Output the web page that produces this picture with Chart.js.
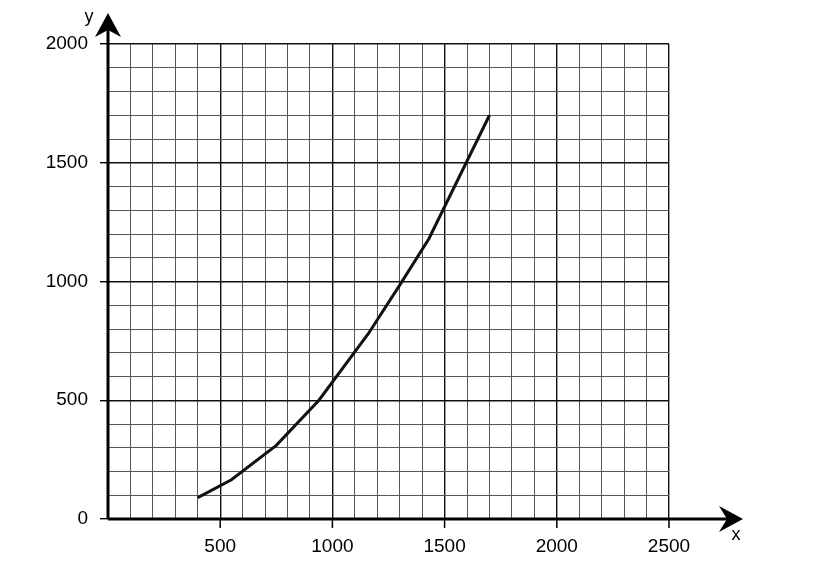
<!DOCTYPE html>
<html>
<head>
<meta charset="utf-8">
<script src="https://cdn.jsdelivr.net/npm/chart.js@4.4.1/dist/chart.umd.min.js"></script>
<style>
  html, body { margin: 0; padding: 0; background: #fff; }
  #wrap { width: 837px; height: 567px; position: relative; }
</style>
</head>
<body>
<div id="wrap"><canvas id="graph"></canvas></div>
<script>
// curve
const xValues = [400, 550, 750, 940, 1160, 1300, 1430, 1700];
const yValues = [90, 165, 310, 500, 780, 985, 1180, 1700];

const xMax = 2500;
const yMax = 2000;
const minorStep = 100;
const majorStep = 500;

const points = xValues.map((x, i) => ({ x: x, y: yValues[i] }));

const isMajor = (v) => v % majorStep === 0;

// axes with arrow heads and the x / y letters
const arrowAxes = {
    id: 'arrowAxes',
    afterDraw(chart) {
        const ctx = chart.ctx;
        const xs = chart.scales.x;
        const ys = chart.scales.y;
        const ox = xs.getPixelForValue(0);
        const oy = ys.getPixelForValue(0);

        ctx.save();
        ctx.strokeStyle = '#000';
        ctx.fillStyle = '#000';

        // small tick marks under the x axis at the labelled values
        ctx.lineWidth = 1.5;
        ctx.beginPath();
        for (let v = majorStep; v <= xMax; v += majorStep) {
            const px = xs.getPixelForValue(v);
            ctx.moveTo(px, oy);
            ctx.lineTo(px, oy + 9);
        }
        ctx.stroke();

        ctx.lineWidth = 3;
        ctx.beginPath();
        ctx.moveTo(ox, oy);
        ctx.lineTo(728, oy);
        ctx.moveTo(ox, oy);
        ctx.lineTo(ox, 28);
        ctx.stroke();

        // x arrow
        ctx.beginPath();
        ctx.moveTo(743, oy);
        ctx.lineTo(719, oy - 13);
        ctx.lineTo(727, oy);
        ctx.lineTo(719, oy + 13);
        ctx.closePath();
        ctx.fill();

        // y arrow
        ctx.beginPath();
        ctx.moveTo(ox, 13);
        ctx.lineTo(ox - 13, 37);
        ctx.lineTo(ox, 30);
        ctx.lineTo(ox + 13, 37);
        ctx.closePath();
        ctx.fill();

        ctx.font = '18px "Liberation Sans", Arial, sans-serif';
        ctx.textAlign = 'center';
        ctx.textBaseline = 'middle';
        ctx.fillText('y', 89, 17);
        ctx.fillText('x', 736, 535);
        ctx.restore();
    }
};

new Chart(document.getElementById('graph'), {
    type: 'scatter',
    data: {
        datasets: [{
            data: points,
            showLine: true,
            borderColor: '#111',
            borderWidth: 3,
            pointRadius: 0,
            tension: 0
        }]
    },
    options: {
        responsive: true,
        maintainAspectRatio: false,
        animation: false,
        layout: { padding: { top: 44, right: 168, left: 0, bottom: 0 } },
        plugins: {
            legend: { display: false },
            tooltip: { enabled: false }
        },
        scales: {
            x: {
                type: 'linear',
                min: 0,
                max: xMax,
                border: { display: false },
                afterFit(scale) { scale.height = 48; },
                grid: {
                    color: (c) => isMajor(c.tick.value) ? '#111' : '#555',
                    lineWidth: (c) => isMajor(c.tick.value) ? 1.4 : 1,
                    drawTicks: true,
                    tickColor: 'rgba(0,0,0,0)',
                    tickLength: 8
                },
                ticks: {
                    stepSize: minorStep,
                    maxTicksLimit: 40,
                    autoSkip: false,
                    maxRotation: 0,
                    padding: 8,
                    color: '#000',
                    font: { family: '"Liberation Sans", Arial, sans-serif', size: 19 },
                    callback: (v) => (isMajor(v) && v !== 0) ? String(v) : ''
                }
            },
            y: {
                type: 'linear',
                min: 0,
                max: yMax,
                border: { display: false },
                afterFit(scale) { scale.width = 108; },
                grid: {
                    color: (c) => isMajor(c.tick.value) ? '#111' : '#555',
                    lineWidth: (c) => isMajor(c.tick.value) ? 1.4 : 1,
                    tickColor: (c) => isMajor(c.tick.value) ? '#000' : 'rgba(0,0,0,0)',
                    tickLength: 8,
                    tickWidth: 1.4
                },
                ticks: {
                    stepSize: minorStep,
                    maxTicksLimit: 40,
                    autoSkip: false,
                    padding: 12,
                    color: '#000',
                    font: { family: '"Liberation Sans", Arial, sans-serif', size: 19 },
                    callback: (v) => isMajor(v) ? String(v) : ''
                }
            }
        }
    },
    plugins: [arrowAxes]
});
</script>
</body>
</html>
